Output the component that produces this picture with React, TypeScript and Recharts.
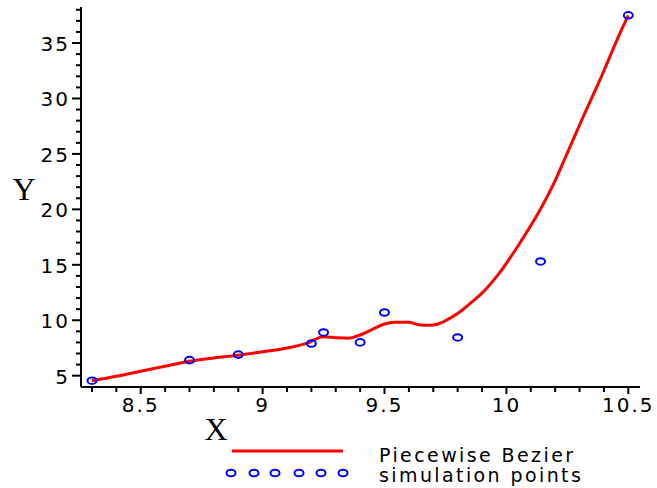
import React from 'react';
import { ComposedChart, Line, Scatter, XAxis, YAxis } from 'recharts';

// Piecewise Bezier fit, sampled along the curve
const curveX = [8.3, 8.4, 8.5, 8.6, 8.7, 8.8, 8.9, 9.0, 9.1, 9.18, 9.25, 9.3, 9.35, 9.4, 9.45, 9.5, 9.54, 9.6, 9.64, 9.68, 9.72, 9.76, 9.8, 9.86, 9.9, 9.97, 10.05, 10.13, 10.2, 10.25, 10.32, 10.39, 10.46, 10.5];
const curveY = [4.55, 4.95, 5.4, 5.85, 6.3, 6.6, 6.85, 7.15, 7.5, 7.92, 8.52, 8.43, 8.37, 8.67, 9.18, 9.66, 9.81, 9.81, 9.6, 9.54, 9.66, 10.08, 10.6, 11.67, 12.45, 14.23, 16.79, 19.64, 22.6, 25.1, 28.6, 32.0, 35.6, 37.5];

// Simulation points
const simX = [8.3, 8.7, 8.9, 9.2, 9.25, 9.4, 9.5, 9.8, 10.14, 10.5];
const simY = [4.55, 6.4, 6.9, 7.9, 8.9, 8.0, 10.7, 8.45, 15.3, 37.5];

const xMajorTicks = [8.5, 9, 9.5, 10, 10.5];
const yMajorTicks = [5, 10, 15, 20, 25, 30, 35];

const seriesNames = ['Piecewise Bezier', 'simulation points'];

const steps = (from: number, to: number, step: number) => {
  const out: number[] = [];
  for (let v = from; v <= to + 1e-9; v += step) out.push(Math.round(v * 10) / 10);
  return out;
};
const xTicks = steps(8.3, 10.5, 0.1);
const yTicks = steps(5, 38, 1);

const curveData = curveX.map((x, i) => ({ x, y: curveY[i] }));
const simData = simX.map((x, i) => ({ x, y: simY[i] }));

const FONT = '"DejaVu Sans", sans-serif';
const SERIF = '"Liberation Serif", "Times New Roman", serif';

const isMajor = (v: number, majors: number[]) => majors.some((m) => Math.abs(m - v) < 1e-6);

function XTick(props: any) {
  const { x, y, payload } = props;
  const major = isMajor(payload.value, xMajorTicks);
  return (
    <g>
      <line x1={x} x2={x} y1={y} y2={y + (major ? 7 : 5)} stroke="#000" strokeWidth={2} />
      {major && (
        <text x={x} y={y + 25} textAnchor="middle" fontFamily={FONT} fontSize={20} letterSpacing={2} fill="#000">
          {payload.value}
        </text>
      )}
    </g>
  );
}

function YTick(props: any) {
  const { x, y, payload } = props;
  const major = isMajor(payload.value, yMajorTicks);
  return (
    <g>
      <line x1={x - (major ? 9 : 5)} x2={x} y1={y} y2={y} stroke="#000" strokeWidth={2} />
      {major && (
        <text x={x - 11} y={y + 8} textAnchor="end" fontFamily={FONT} fontSize={20} letterSpacing={2} fill="#000">
          {payload.value}
        </text>
      )}
    </g>
  );
}

const Ring = (props: any) => (
  <ellipse cx={props.cx} cy={props.cy} rx={4.5} ry={3.3} fill="none" stroke="#0000ff" strokeWidth={2} />
);

export default function App() {
  return (
    <div style={{ position: 'absolute', left: 0, top: 0, background: '#fff' }}>
      <ComposedChart width={657} height={488} margin={{ top: 7, right: 17, left: 21, bottom: 61 }}>
        <XAxis
          type="number"
          dataKey="x"
          domain={[8.255, 10.548]}
          allowDataOverflow
          ticks={xTicks}
          interval={0}
          tick={<XTick />}
          tickLine={false}
          tickSize={0}
          tickMargin={0}
          height={40}
          axisLine={{ stroke: '#000', strokeWidth: 2 }}
        />
        <YAxis
          type="number"
          dataKey="y"
          domain={[3.98, 38.25]}
          allowDataOverflow
          ticks={yTicks}
          interval={0}
          tick={<YTick />}
          tickLine={false}
          tickSize={0}
          tickMargin={0}
          width={60}
          axisLine={{ stroke: '#000', strokeWidth: 2 }}
        />
        <Line
          data={curveData}
          dataKey="y"
          type="monotone"
          stroke="#ff0000"
          strokeWidth={3}
          dot={false}
          isAnimationActive={false}
          name={seriesNames[0]}
        />
        <Scatter data={simData} shape={<Ring />} isAnimationActive={false} name={seriesNames[1]} />

        <text x={24} y={200} textAnchor="middle" fontFamily={SERIF} fontSize={32} fill="#000">Y</text>
        <text x={216} y={440} textAnchor="middle" fontFamily={SERIF} fontSize={32} fill="#000">X</text>

        {/* legend */}
        <g>
          <line x1={232} x2={343} y1={451} y2={451} stroke="#ff0000" strokeWidth={3} />
          {[231, 254, 275, 299, 321, 343].map((cx) => (
            <Ring key={cx} cx={cx} cy={473} />
          ))}
          <text x={379} y={462} fontFamily={FONT} fontSize={19} letterSpacing={2.4} fill="#000">{seriesNames[0]}</text>
          <text x={379} y={482} fontFamily={FONT} fontSize={19} letterSpacing={2.4} fill="#000">{seriesNames[1]}</text>
        </g>
      </ComposedChart>
    </div>
  );
}
